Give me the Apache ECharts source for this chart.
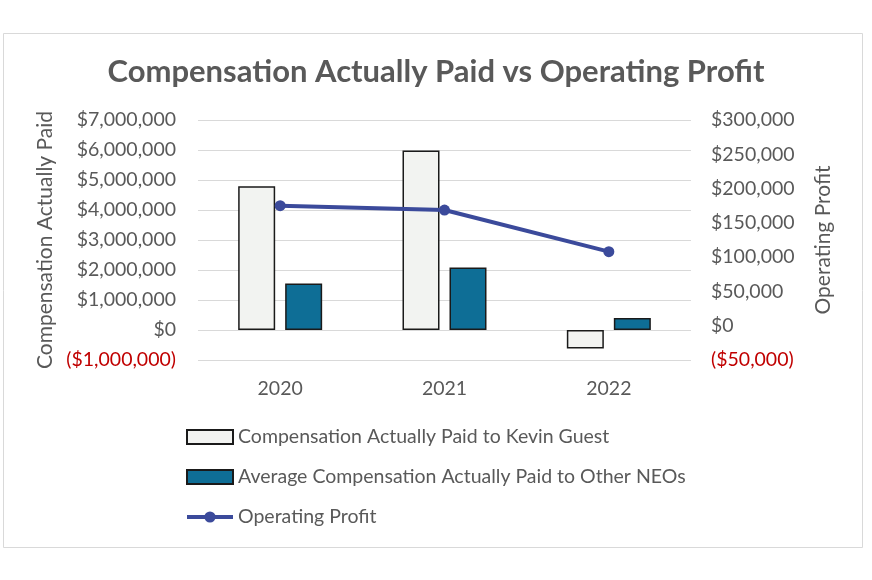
<!DOCTYPE html>
<html><head><meta charset="utf-8">
<script src="https://cdn.jsdelivr.net/npm/echarts@6/dist/echarts.min.js"></script>
<style>html,body{margin:0;padding:0;background:#fff}#c{width:872px;height:580px}</style>
</head><body><div id="c"></div>
<script>
var categories = ['2020', '2021', '2022'];
var kevinGuest = [4790000, 5980000, -620000];
var otherNEOs = [1550000, 2080000, 400000];
var operatingProfit = [175000, 168700, 108000];
var leftTicks = {min: -1000000, max: 7000000, interval: 1000000};
var rightTicks = {min: -50000, max: 300000, interval: 50000};

var FONT = 'Lato, "Open Sans", sans-serif';
var GRAY = '#595959';
var LINE = '#3b4a9b';
function money(v) {
  var s = '$' + Math.abs(v).toLocaleString('en-US');
  return v < 0 ? '{neg|(' + s + ')}' : s;
}
var chart = echarts.init(document.getElementById('c'));
chart.setOption({
  animation: false,
  backgroundColor: '#fff',
  graphic: [{type: 'rect', shape: {x: 3.5, y: 33.5, width: 859, height: 514}, style: {fill: 'none', stroke: '#d9d9d9', lineWidth: 1}, z: -1}],
  title: {text: 'Compensation Actually Paid vs Operating Profit', left: 'center', top: 51,
    textStyle: {fontFamily: FONT, fontWeight: 'bold', fontSize: 31, color: GRAY}},
  grid: {left: 198, right: 181, top: 120, bottom: 220},
  legend: {orient: 'vertical', left: 180, top: 422, itemGap: 20, itemWidth: 46, itemHeight: 14,
    textStyle: {fontFamily: FONT, fontSize: 19.5, color: GRAY},
    data: [{name: 'Compensation Actually Paid to Kevin Guest', icon: 'rect'},
      {name: 'Average Compensation Actually Paid to Other NEOs', icon: 'rect'},
      {name: 'Operating Profit', lineStyle: {width: 4, color: LINE}, itemStyle: {color: LINE}}]},
  xAxis: {type: 'category', data: categories,
    axisLine: {show: false}, axisTick: {show: false},
    axisLabel: {fontFamily: FONT, fontSize: 19.5, color: GRAY, margin: 19}},
  yAxis: [{type: 'value', min: leftTicks.min, max: leftTicks.max, interval: leftTicks.interval,
      name: 'Compensation Actually Paid', nameLocation: 'middle', nameGap: 138,
      nameTextStyle: {fontFamily: FONT, fontSize: 21, color: GRAY},
      axisLine: {show: false}, axisTick: {show: false},
      splitLine: {lineStyle: {color: '#d9d9d9', width: 1}},
      axisLabel: {fontFamily: FONT, fontSize: 19.5, color: GRAY, margin: 22, formatter: money,
        rich: {neg: {color: '#c00000', fontFamily: FONT, fontSize: 19.5}}}},
    {type: 'value', min: rightTicks.min, max: rightTicks.max, interval: rightTicks.interval,
      name: 'Operating Profit', nameLocation: 'middle', nameGap: 122,
      nameTextStyle: {fontFamily: FONT, fontSize: 21, color: GRAY},
      axisLine: {show: false}, axisTick: {show: false}, splitLine: {show: false},
      axisLabel: {fontFamily: FONT, fontSize: 19.5, color: GRAY, margin: 20, formatter: money,
        rich: {neg: {color: '#c00000', fontFamily: FONT, fontSize: 19.5}}}}],
  series: [
    {name: 'Compensation Actually Paid to Kevin Guest', type: 'bar', data: kevinGuest, barWidth: 37, barGap: '27%',
      itemStyle: {color: '#f2f3f1', borderColor: '#1a1a1a', borderWidth: 1.5}},
    {name: 'Average Compensation Actually Paid to Other NEOs', type: 'bar', data: otherNEOs, barWidth: 37,
      itemStyle: {color: '#0e6e96', borderColor: '#1a1a1a', borderWidth: 1.5}},
    {name: 'Operating Profit', type: 'line', yAxisIndex: 1, data: operatingProfit,
      symbol: 'circle', symbolSize: 11, lineStyle: {color: LINE, width: 4},
      itemStyle: {color: LINE}}
  ]
});
</script></body></html>
